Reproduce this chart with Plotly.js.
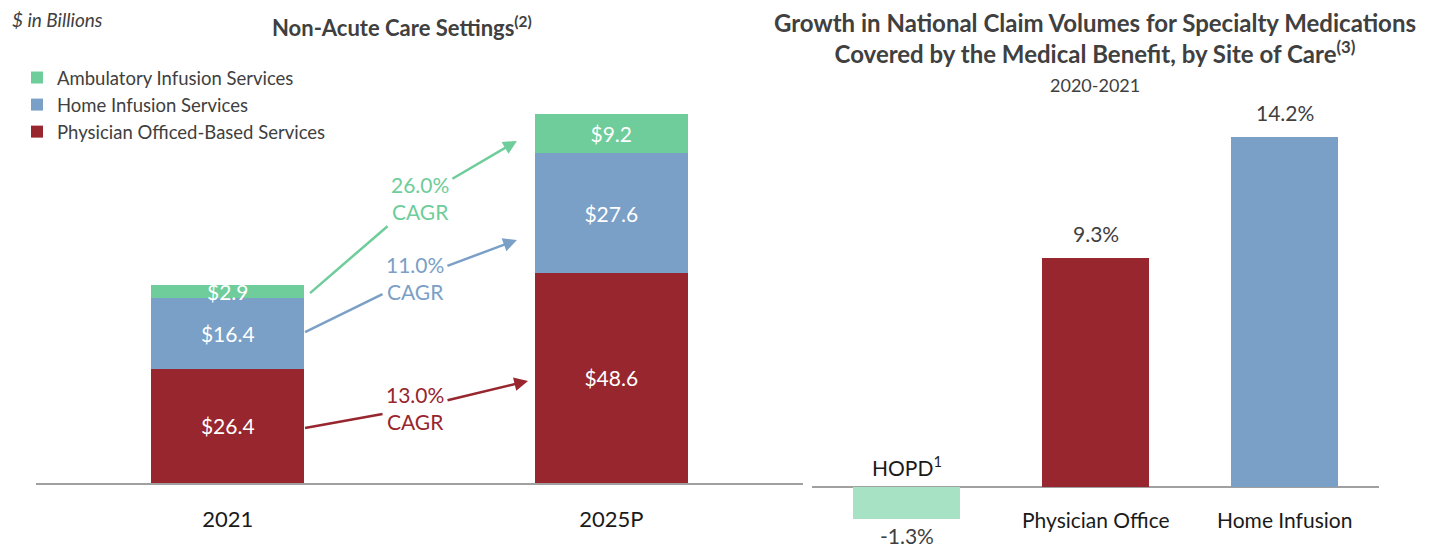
<!DOCTYPE html>
<html>
<head>
<meta charset="utf-8">
<script src="https://cdn.plot.ly/plotly-3.0.1.min.js"></script>
<style>html,body{margin:0;padding:0;background:#fff;}#chart{width:1432px;height:544px;}</style>
</head>
<body>
<div id="chart"></div>
<script>
// ---- data ----
const years = ["2021", "2025P"];
const physicianOffice = [26.4, 48.6];
const homeInfusion = [16.4, 27.6];
const ambulatoryInfusion = [2.9, 9.2];
const seriesNames = ["Physician Officed-Based Services", "Home Infusion Services", "Ambulatory Infusion Services"];
const cagrLabels = ["13.0%", "11.0%", "26.0%"];

const sites = ["HOPD<sup>1</sup>", "Physician Office", "Home Infusion"];
const growth = [-1.3, 9.3, 14.2];

// ---- style ----
const RED = "#97262E", BLUE = "#7BA0C7", GREEN = "#6ECD9A", LGREEN = "#A8E2C5";
const DARK = "#404040";
const FONT = "Lato, 'Open Sans', sans-serif";
const W = 1432, H = 544;
const px = v => v / W, py = v => (H - v) / H;

const fmt = v => "$" + v.toFixed(1);

function stackTrace(vals, name, color) {
  return {
    type: "bar", x: years, y: vals, name: name,
    marker: {color: color, line: {width: 0}},
    text: vals.map(fmt), textposition: "inside", insidetextanchor: "middle",
    constraintext: "none", textangle: 0,
    textfont: {color: "#ffffff", size: 21, family: FONT},
    hoverinfo: "skip", xaxis: "x", yaxis: "y"
  };
}

const traces = [
  stackTrace(physicianOffice, seriesNames[0], RED),
  stackTrace(homeInfusion, seriesNames[1], BLUE),
  stackTrace(ambulatoryInfusion, seriesNames[2], GREEN),
  {
    type: "bar", x: sites, y: growth, showlegend: false,
    marker: {color: [LGREEN, RED, BLUE], line: {width: 0}},
    xaxis: "x2", yaxis: "y2", hoverinfo: "skip", width: 0.571
  }
];

// ---- annotations ----
const ann = [];
ann.push({xref: "paper", yref: "paper", x: px(10), y: py(20), xanchor: "left", yanchor: "middle",
  text: "<i>$ in Billions</i>", showarrow: false, font: {size: 19, color: DARK, family: FONT}});
ann.push({xref: "paper", yref: "paper", x: px(402), y: py(26), xanchor: "center", yanchor: "middle",
  text: "<b>Non-Acute Care Settings<sup>(2)</sup></b>", showarrow: false, font: {size: 22, color: DARK, family: FONT}});
ann.push({xref: "paper", yref: "paper", x: px(1095), y: py(38), xanchor: "center", yanchor: "middle",
  text: "<b>Growth in National Claim Volumes for Specialty Medications<br>Covered by the Medical Benefit, by Site of Care<sup>(3)</sup></b>",
  showarrow: false, font: {size: 24, color: DARK, family: FONT}});
ann.push({xref: "paper", yref: "paper", x: px(1095), y: py(85), xanchor: "center", yanchor: "middle",
  text: "2020-2021", showarrow: false, font: {size: 18, color: DARK, family: FONT}});

// right chart value labels and category labels
growth.forEach((v, i) => {
  ann.push({xref: "x2", yref: "y2", x: sites[i], y: v, yanchor: "middle", xanchor: "center",
    yshift: v >= 0 ? 24 : -16, text: v.toFixed(1) + "%", showarrow: false,
    font: {size: 21, color: DARK, family: FONT}});
  ann.push({xref: "x2", yref: "y2", x: sites[i], y: 0, yanchor: "middle", xanchor: "center",
    yshift: v >= 0 ? -32 : 21, text: sites[i], showarrow: false,
    font: {size: 21, color: "#1a1a1a", family: FONT}});
});

// CAGR arrows
const cagrArrows = [
  {c: RED,   t: cagrLabels[0], hx: 0.783, hy: 23.6, hax: -113, hay: 27, tx: 0.2015, ty: 12.7, tax: 110, tay: -20},
  {c: BLUE,  t: cagrLabels[1], hx: 0.754, hy: 56.2, hax: -102, hay: 38, tx: 0.2015, ty: 34.9, tax: 110, tay: -54},
  {c: GREEN, t: cagrLabels[2], hx: 0.754, hy: 79.1, hax: -97,  hay: 57, tx: 0.2145, ty: 43.9, tax: 110, tay: -95}
];
cagrArrows.forEach(a => {
  const txt = a.t + "<br>CAGR";
  ann.push({xref: "x", yref: "y", x: a.hx, y: a.hy, ax: a.hax, ay: a.hay, text: txt,
    showarrow: true, arrowhead: 2, arrowsize: 1.1, arrowwidth: 2.5, arrowcolor: a.c, borderpad: 3,
    font: {size: 21, color: a.c, family: FONT}});
  ann.push({xref: "x", yref: "y", x: a.tx, y: a.ty, ax: a.tax, ay: a.tay, text: txt,
    showarrow: true, arrowhead: 0, arrowwidth: 2.5, arrowcolor: a.c, borderpad: 3,
    font: {size: 21, color: "rgba(0,0,0,0)", family: FONT}});
});

const layout = {
  width: W, height: H,
  margin: {l: 0, r: 0, t: 0, b: 0},
  paper_bgcolor: "#ffffff", plot_bgcolor: "rgba(0,0,0,0)",
  font: {family: FONT, color: DARK},
  barmode: "stack", bargap: 0.6,
  showlegend: true,
  legend: {x: px(17), y: py(59), xanchor: "left", yanchor: "top",
    traceorder: "reversed",
    font: {size: 18.5, color: DARK, family: FONT}, bgcolor: "rgba(0,0,0,0)"},
  xaxis: {domain: [px(36), px(803)], range: [-0.5, 1.5], type: "category",
    showline: true, linecolor: "#a0a0a0", linewidth: 2, ticks: "", showgrid: false,
    ticklabelstandoff: 16, tickfont: {size: 22, color: "#1a1a1a", family: FONT}, fixedrange: true},
  yaxis: {domain: [py(483), py(100)], range: [0, 383 / 4.325], visible: false, fixedrange: true},
  xaxis2: {domain: [px(812), px(1379)], range: [-0.5, 2.5], type: "category", anchor: "y2",
    showline: false, showticklabels: false, ticks: "", showgrid: false, fixedrange: true},
  yaxis2: {domain: [py(530), py(100)], range: [-(530 - 487) / 24.65, (487 - 100) / 24.65], anchor: "x2",
    showgrid: false, showticklabels: false, ticks: "", showline: false,
    zeroline: true, zerolinecolor: "#a0a0a0", zerolinewidth: 2, fixedrange: true},
  annotations: ann
};

Plotly.newPlot("chart", traces, layout, {displayModeBar: false, staticPlot: true});
</script>
</body>
</html>
